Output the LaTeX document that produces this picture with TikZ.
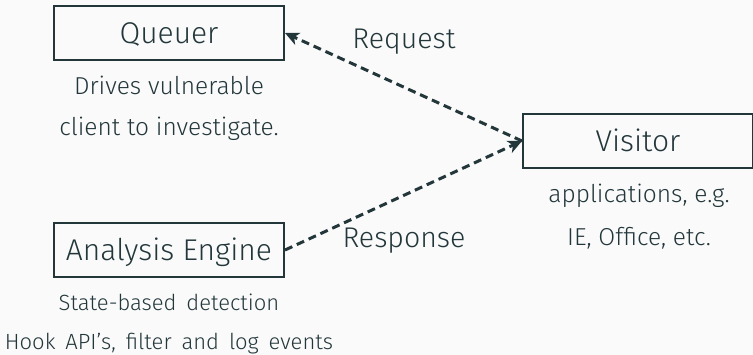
\documentclass[tikz,border=0pt]{standalone}
\usepackage{fontspec}
\setmainfont{Fira Sans Light}
\usetikzlibrary{arrows.meta}
\definecolor{ink}{HTML}{23373B}
\definecolor{paper}{HTML}{FAFAFA}
\newcommand{\widewords}{\spaceskip=0.45em\relax}
\tikzset{
  x=1pt, y=-1pt,
  box/.style={draw=ink, line width=2pt, rectangle, minimum width=230pt, minimum height=54pt,
    inner sep=0pt, text=ink, font=\fontsize{30}{36}\selectfont, text height=20.7pt, text depth=0pt},
  note/.style={anchor=base, text=ink, inner sep=0pt, font=\fontsize{24.5}{30}\selectfont},
  smallnote/.style={note, font=\fontsize{22}{27}\selectfont, execute at begin node=\widewords},
  edgelabel/.style={anchor=base, text=ink, inner sep=0pt, font=\fontsize{28.5}{34}\selectfont},
  link/.style={draw=ink, line width=3pt, dash pattern=on 8pt off 5pt,
    -{Stealth[length=14pt, width=13pt, inset=4pt]}}
}
\begin{document}
\begin{tikzpicture}
  % canvas
  \fill[paper] (0,0) rectangle (753,355);
  \useasboundingbox (0,0) rectangle (753,355);

  % components
  \node[box] (queuer) at (169,33) {Queuer};
  \node[box] (engine) at (169,250) {Analysis Engine};
  \node[box] (visitor) at (638,141) {Visitor};

  % descriptions
  \node[note] (q1) at (169,95) {Drives vulnerable};
  \node[note] (q2) at (169,136) {client to investigate.};
  \node[note] (v1) at (639,203) {applications, e.g.};
  \node[note] (v2) at (639,246) {IE, Office, etc.};
  \node[smallnote] (e1) at (169,311) {State-based detection};
  \node[smallnote] (e2) at (169,350) {Hook API's, filter and log events};

  % message flow
  \draw[link] (visitor.west) -- (queuer.east);
  \draw[link] (engine.east) -- (visitor.west);
  \node[edgelabel] (req) at (404,49) {Request};
  \node[edgelabel] (resp) at (404,248) {Response};
\end{tikzpicture}
\end{document}
